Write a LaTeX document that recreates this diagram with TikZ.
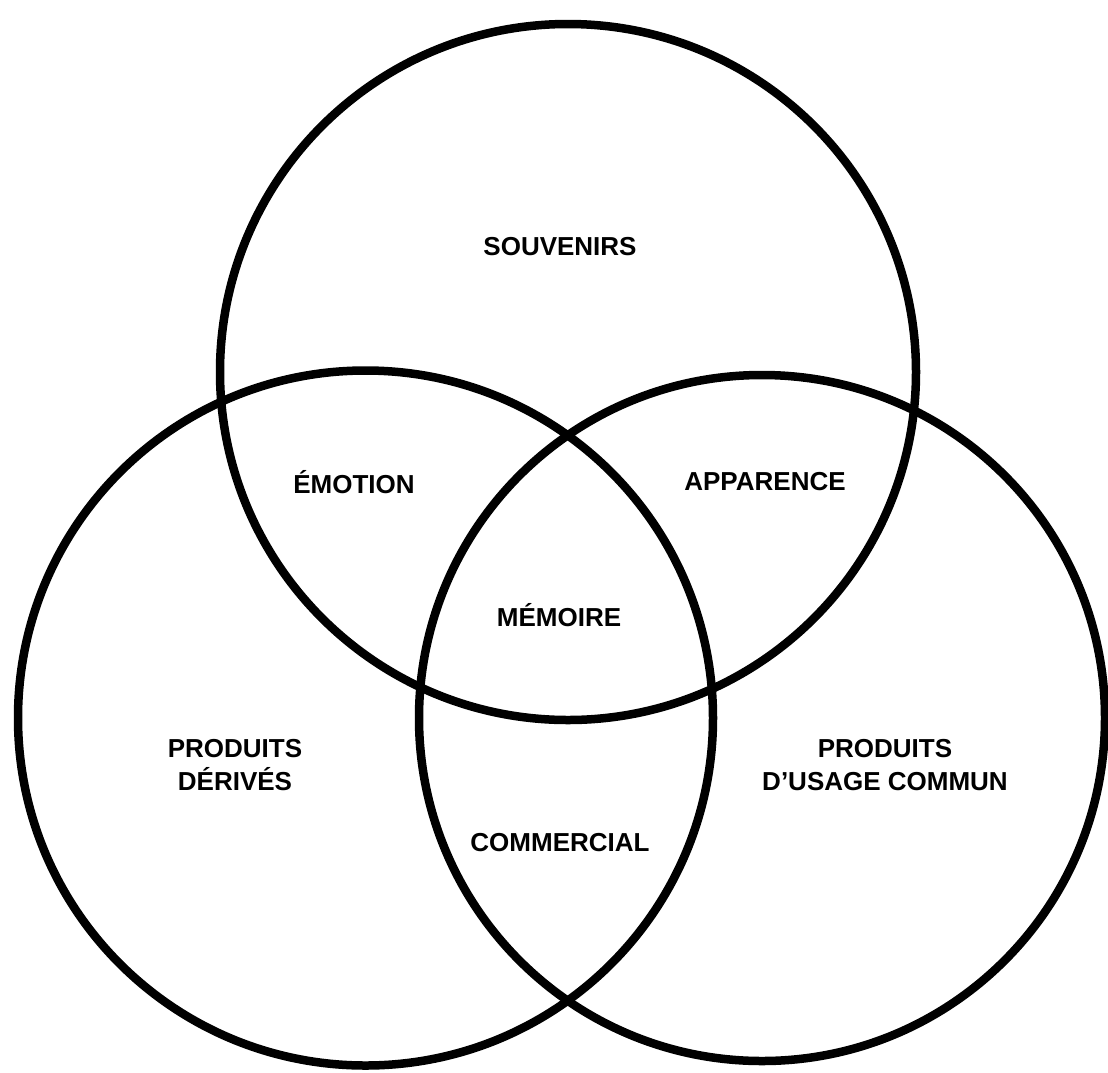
\documentclass[tikz,border=0pt]{standalone}
\usepackage{fontspec}
\setmainfont{Liberation Sans}
\begin{document}
\begin{tikzpicture}[x=1pt,y=-1pt,
  ring/.style={draw=black,line width=8.5pt},
  lbl/.style={font=\fontsize{26}{33}\selectfont\bfseries,align=center,inner sep=0pt}]
\useasboundingbox (0,0) rectangle (1108,1072);
\fill[white] (0,0) rectangle (1108,1072);
\coordinate (ctop) at (568,372);
\coordinate (cleft) at (365.5,718);
\coordinate (cright) at (762,718);
\draw[ring] (ctop) circle[radius=348];
\draw[ring] (cleft) circle[radius=347.5];
\draw[ring] (cright) circle[radius=343];
\node[lbl] (souv) at (560,247) {SOUVENIRS};
\node[lbl] (emo) at (354,482) {ÉMOTION};
\node[lbl] (app) at (765,482) {APPARENCE};
\node[lbl] (mem) at (559,615) {MÉMOIRE};
\node[lbl] (pd) at (235,765) {PRODUITS\\DÉRIVÉS};
\node[lbl] (puc) at (885,765) {PRODUITS\\D’USAGE COMMUN};
\node[lbl] (com) at (560,843) {COMMERCIAL};
\end{tikzpicture}
\end{document}
